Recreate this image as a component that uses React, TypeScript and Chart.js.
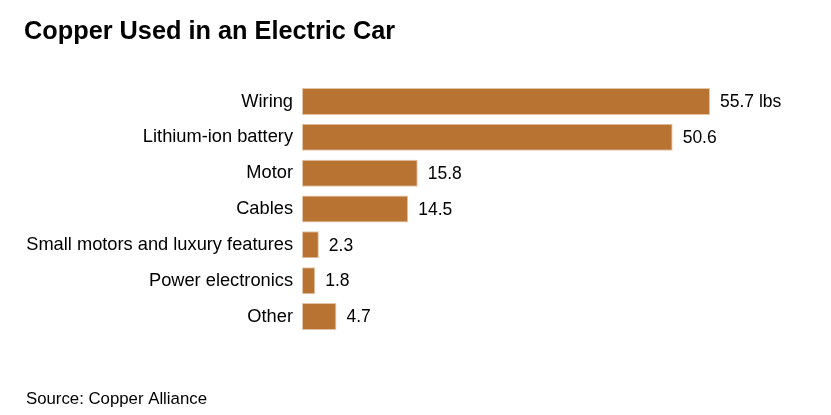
import React, { useEffect, useRef } from "react";
import { Chart, registerables } from "chart.js";

Chart.register(...registerables);

const categories = [
  "Wiring",
  "Lithium-ion battery",
  "Motor",
  "Cables",
  "Small motors and luxury features",
  "Power electronics",
  "Other",
];
const values = [55.7, 50.6, 15.8, 14.5, 2.3, 1.8, 4.7];
const valueLabels = ["55.7 lbs", "50.6", "15.8", "14.5", "2.3", "1.8", "4.7"];
const titleText = "Copper Used in an Electric Car";
const sourceText = "Source: Copper Alliance";

const FONT = "'Liberation Sans', Arial, sans-serif";

export default function App() {
  const ref = useRef<HTMLCanvasElement | null>(null);

  useEffect(() => {
    if (!ref.current) return;
    const textPlugin = {
      id: "texts",
      afterDatasetsDraw(chart: any) {
        const ctx = chart.ctx;
        ctx.save();
        ctx.fillStyle = "#000";
        ctx.textBaseline = "middle";
        ctx.textAlign = "left";
        ctx.font = `17.5px ${FONT}`;
        const meta = chart.getDatasetMeta(0);
        meta.data.forEach((bar: any, i: number) => {
          ctx.fillText(valueLabels[i], bar.x + 10, bar.y + 1);
        });
        ctx.textBaseline = "alphabetic";
        ctx.font = `bold 25.3px ${FONT}`;
        ctx.fillText(titleText, 24, 38.5);
        ctx.font = `16.8px ${FONT}`;
        ctx.fillText(sourceText, 26, 404);
        ctx.restore();
      },
    };
    const chart = new Chart(ref.current, {
      type: "bar",
      data: {
        labels: categories,
        datasets: [
          {
            data: values,
            backgroundColor: "#b87333",
            borderColor: "#e2c4a6",
            borderWidth: 1,
            borderSkipped: false,
            categoryPercentage: 1,
            barPercentage: 0.754,
          },
        ],
      },
      options: {
        indexAxis: "y",
        animation: false,
        responsive: false,
        maintainAspectRatio: false,
        layout: { padding: { top: 83.6, bottom: 80.6, left: 0, right: 89.5 } },
        plugins: {
          legend: { display: false },
          tooltip: { enabled: false },
          title: { display: false },
        },
        scales: {
          x: {
            display: false,
            min: 0,
            max: 60,
          },
          y: {
            grid: { display: false, drawTicks: false },
            border: { display: false },
            ticks: {
              color: "#000",
              padding: 9,
              font: { family: FONT, size: 18.25 },
            },
            afterFit(scale: any) {
              scale.width = 302;
            },
          },
        },
      },
      plugins: [textPlugin],
    });
    return () => chart.destroy();
  }, []);

  return (
    <div style={{ position: "fixed", left: 0, top: 0, width: 831, height: 415, background: "#fff" }}>
      <canvas ref={ref} width={831} height={415} style={{ width: 831, height: 415 }} />
    </div>
  );
}
